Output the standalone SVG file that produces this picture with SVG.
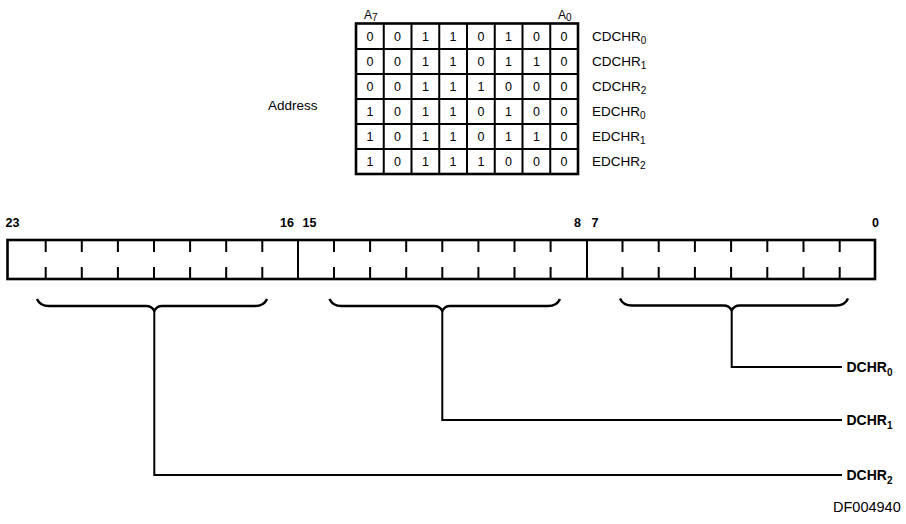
<svg xmlns="http://www.w3.org/2000/svg" width="906" height="524" viewBox="0 0 906 524">
<style>
  .bg { fill: #ffffff; }
  .grid { stroke: #000; stroke-width: 2; fill: none; }
  .outer { stroke: #000; stroke-width: 2.6; fill: none; }
  .tick { stroke: #000; stroke-width: 2; }
  .line { stroke: #000; stroke-width: 2; fill: none; }
  .brace { stroke: #000; stroke-width: 2.4; fill: none; stroke-linejoin: round; }
  .cell { font-family: "Liberation Sans", Arial, sans-serif; font-size: 12.5px; text-anchor: middle; fill: #000; }
  .lab { font-family: "Liberation Sans", Arial, sans-serif; font-size: 13.5px; fill: #000; }
  .hdr { font-family: "Liberation Sans", Arial, sans-serif; font-size: 12px; fill: #000; }
  .bit { font-family: "Liberation Sans", Arial, sans-serif; font-size: 12.5px; font-weight: bold; fill: #000; }
  .out { font-family: "Liberation Sans", Arial, sans-serif; font-size: 14px; font-weight: bold; fill: #000; }
  .sub { font-size: 10px; }
  .note { font-family: "Liberation Sans", Arial, sans-serif; font-size: 14.5px; fill: #000; }
</style>
<rect class="bg" x="0" y="0" width="906" height="524"/>

<g id="address-table">
  <text class="hdr" x="364" y="19">A<tspan class="sub" dy="2">7</tspan></text>
  <text class="hdr" x="558" y="19">A<tspan class="sub" dy="2">0</tspan></text>
  <text class="lab" x="268" y="109.5">Address</text>
  <rect class="outer" x="356" y="23.5" width="222" height="150.5"/>
  <path class="grid" d="M383.75 23.5V174 M411.5 23.5V174 M439.25 23.5V174 M467 23.5V174 M494.75 23.5V174 M522.5 23.5V174 M550.25 23.5V174
    M356 49H578 M356 74H578 M356 99H578 M356 124H578 M356 149H578"/>
  <g>
    <text class="cell" x="369.9" y="40.7">0</text><text class="cell" x="397.6" y="40.7">0</text><text class="cell" x="425.4" y="40.7">1</text><text class="cell" x="453.1" y="40.7">1</text><text class="cell" x="480.9" y="40.7">0</text><text class="cell" x="508.6" y="40.7">1</text><text class="cell" x="536.4" y="40.7">0</text><text class="cell" x="564.1" y="40.7">0</text>
    <text class="cell" x="369.9" y="66">0</text><text class="cell" x="397.6" y="66">0</text><text class="cell" x="425.4" y="66">1</text><text class="cell" x="453.1" y="66">1</text><text class="cell" x="480.9" y="66">0</text><text class="cell" x="508.6" y="66">1</text><text class="cell" x="536.4" y="66">1</text><text class="cell" x="564.1" y="66">0</text>
    <text class="cell" x="369.9" y="91">0</text><text class="cell" x="397.6" y="91">0</text><text class="cell" x="425.4" y="91">1</text><text class="cell" x="453.1" y="91">1</text><text class="cell" x="480.9" y="91">1</text><text class="cell" x="508.6" y="91">0</text><text class="cell" x="536.4" y="91">0</text><text class="cell" x="564.1" y="91">0</text>
    <text class="cell" x="369.9" y="116">1</text><text class="cell" x="397.6" y="116">0</text><text class="cell" x="425.4" y="116">1</text><text class="cell" x="453.1" y="116">1</text><text class="cell" x="480.9" y="116">0</text><text class="cell" x="508.6" y="116">1</text><text class="cell" x="536.4" y="116">0</text><text class="cell" x="564.1" y="116">0</text>
    <text class="cell" x="369.9" y="141">1</text><text class="cell" x="397.6" y="141">0</text><text class="cell" x="425.4" y="141">1</text><text class="cell" x="453.1" y="141">1</text><text class="cell" x="480.9" y="141">0</text><text class="cell" x="508.6" y="141">1</text><text class="cell" x="536.4" y="141">1</text><text class="cell" x="564.1" y="141">0</text>
    <text class="cell" x="369.9" y="166">1</text><text class="cell" x="397.6" y="166">0</text><text class="cell" x="425.4" y="166">1</text><text class="cell" x="453.1" y="166">1</text><text class="cell" x="480.9" y="166">1</text><text class="cell" x="508.6" y="166">0</text><text class="cell" x="536.4" y="166">0</text><text class="cell" x="564.1" y="166">0</text>
  </g>
  <text class="lab" x="592" y="40.5">CDCHR<tspan class="sub" dy="3">0</tspan></text>
  <text class="lab" x="592" y="65.5">CDCHR<tspan class="sub" dy="3">1</tspan></text>
  <text class="lab" x="592" y="90.5">CDCHR<tspan class="sub" dy="3">2</tspan></text>
  <text class="lab" x="592" y="115.5">EDCHR<tspan class="sub" dy="3">0</tspan></text>
  <text class="lab" x="592" y="140.5">EDCHR<tspan class="sub" dy="3">1</tspan></text>
  <text class="lab" x="592" y="165.5">EDCHR<tspan class="sub" dy="3">2</tspan></text>
</g>

<g id="register">
  <text class="bit" x="5.5" y="226.5">23</text>
  <text class="bit" x="294" y="226.5" text-anchor="end">16</text>
  <text class="bit" x="302.5" y="226.5">15</text>
  <text class="bit" x="581" y="226.5" text-anchor="end">8</text>
  <text class="bit" x="591.5" y="226.5">7</text>
  <text class="bit" x="879" y="226.5" text-anchor="end">0</text>
  <rect class="outer" x="7.5" y="240" width="867.5" height="39"/>
  <path class="grid" d="M298 240V279 M587 240V279"/>
  <path class="tick" d="M45.7 240v12 M81.8 240v12 M117.9 240v12 M154 240v12 M190.1 240v12 M226.2 240v12 M262.3 240v12
    M45.7 279v-12 M81.8 279v-12 M117.9 279v-12 M154 279v-12 M190.1 279v-12 M226.2 279v-12 M262.3 279v-12
    M334 240v12 M370.1 240v12 M406.2 240v12 M442.3 240v12 M478.4 240v12 M514.5 240v12 M550.6 240v12
    M334 279v-12 M370.1 279v-12 M406.2 279v-12 M442.3 279v-12 M478.4 279v-12 M514.5 279v-12 M550.6 279v-12
    M622.5 240v12 M658.7 240v12 M694.9 240v12 M731.1 240v12 M767.3 240v12 M803.5 240v12 M839.7 240v12
    M622.5 279v-12 M658.7 279v-12 M694.9 279v-12 M731.1 279v-12 M767.3 279v-12 M803.5 279v-12 M839.7 279v-12"/>
</g>

<g id="connectors">
  <path class="brace" d="M37 299 Q40 306 49 306 L146 306 Q152 306 154.3 311 Q156.6 306 162 306 L255 306 Q264 306 267 299"/>
  <path class="brace" d="M329.5 299 Q332.5 306 341.5 306 L434 306 Q440 306 442.3 311 Q444.6 306 450 306 L548 306 Q557 306 560 299"/>
  <path class="brace" d="M620 298.5 Q623 305.5 632 305.5 L723.5 305.5 Q729.5 305.5 731.7 310.5 Q734 305.5 740 305.5 L836 305.5 Q845 305.5 848 298.5"/>
  <path class="line" d="M731.7 310.5V367H842"/>
  <path class="line" d="M442.3 311V420H842"/>
  <path class="line" d="M154.3 311V475H842"/>
</g>

<g id="outputs">
  <text class="out" x="846.5" y="372">DCHR<tspan class="sub" dy="4">0</tspan></text>
  <text class="out" x="846.5" y="425">DCHR<tspan class="sub" dy="4">1</tspan></text>
  <text class="out" x="846.5" y="480">DCHR<tspan class="sub" dy="4">2</tspan></text>
  <text class="note" x="833" y="511.5">DF004940</text>
</g>
</svg>
